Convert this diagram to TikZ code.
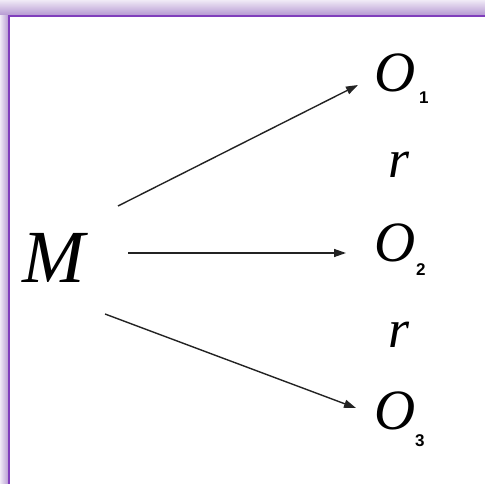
\documentclass[tikz,border=0pt]{standalone}
\usepackage{fontspec}
\setmainfont{Liberation Serif}
\newfontfamily\subfont{Liberation Sans}
\usetikzlibrary{arrows.meta}
\definecolor{glowout}{RGB}{240,234,246}
\definecolor{glowin}{RGB}{178,148,208}
\definecolor{frameline}{RGB}{128,62,188}
\definecolor{arrcol}{RGB}{35,35,35}
\tikzset{
  arr/.style={draw=arrcol, line width=1.4pt, -{Triangle[length=12pt,width=8pt]}},
  bigM/.style={inner sep=0pt, anchor=base west, font=\fontsize{75}{75}\selectfont\itshape},
  onode/.style={inner sep=0pt, anchor=base west, font=\fontsize{57}{57}\selectfont\itshape},
  rnode/.style={inner sep=0pt, anchor=base west, font=\fontsize{54}{54}\selectfont\itshape},
  subnum/.style={inner sep=0pt, anchor=base west, font=\fontsize{17}{17}\selectfont\subfont\bfseries},
}
\begin{document}
\begin{tikzpicture}[x=1pt,y=-1pt]
\useasboundingbox (0,0) rectangle (485,484);
\fill[white] (0,0) rectangle (485,484);
% glow and frame
\shade[top color=glowout, bottom color=glowin] (0,0) rectangle (485,16);
\shade[left color=glowout, right color=glowin] (0,16) rectangle (9,484);
\draw[frameline, line width=2pt] (485,16) -- (9,16) -- (9,484);
% labels
\node[bigM] (M) at (22,282) {M};
\node[onode] (O1) at (374,92) {O};
\node[subnum] (s1) at (419,104) {1};
\node[rnode] (r1) at (388,178) {r};
\node[onode] (O2) at (374,261) {O};
\node[subnum] (s2) at (416,275) {2};
\node[rnode] (r2) at (388,347) {r};
\node[onode] (O3) at (374,429) {O};
\node[subnum] (s3) at (415,446) {3};
% arrow endpoints
\coordinate (a1s) at (118,206);
\coordinate (a1e) at (358,85);
\coordinate (a2s) at (128,253);
\coordinate (a2e) at (346,253);
\coordinate (a3s) at (105,314);
\coordinate (a3e) at (356,408);
\draw[arr] (a1s) -- (a1e);
\draw[arr] (a2s) -- (a2e);
\draw[arr] (a3s) -- (a3e);
\end{tikzpicture}
\end{document}
